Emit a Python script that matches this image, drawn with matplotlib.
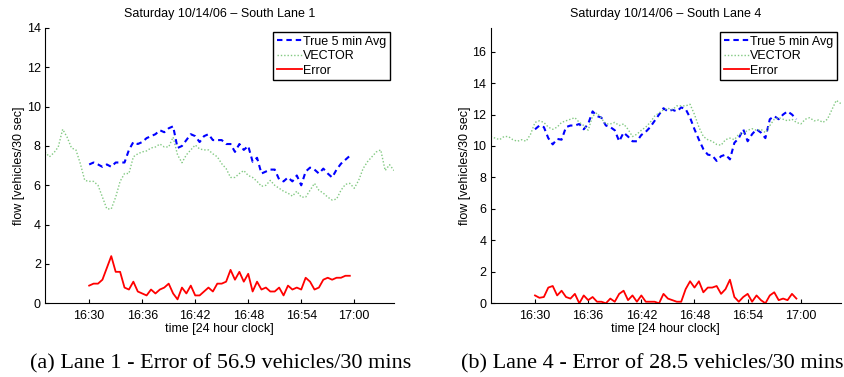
import numpy as np
import matplotlib
matplotlib.use("Agg")
import matplotlib.pyplot as plt

# sample step is 30 s, times in minutes after 16:00
t0_est = 30.0
t0_vec = 25.0
dt = 0.5

# Lane 1
true1 = [7.06, 7.16, 7.06, 6.94, 7.06, 6.94, 7.16, 7.16, 7.16, 7.8,
         8.2, 8.1, 8.2, 8.4, 8.5, 8.6, 8.8, 8.7, 8.9, 9.0,
         7.9, 8.0, 8.3, 8.6, 8.5, 8.2, 8.5, 8.6, 8.3, 8.3,
         8.3, 8.1, 8.1, 7.7, 8.1, 7.8, 8.0, 7.2, 7.4, 6.6,
         6.7, 6.8, 6.8, 6.3, 6.2, 6.4, 6.2, 6.5, 6.0, 6.7,
         6.9, 6.8, 6.6, 6.85, 6.6, 6.4, 6.8, 7.1, 7.3, 7.5]
vector1 = [7.7, 7.45, 7.65, 7.95, 8.85, 8.45, 7.9, 7.8, 7.1, 6.25,
           6.2, 6.2, 6.0, 5.4, 4.8, 4.8, 5.4, 6.2, 6.6, 6.6,
           7.45, 7.6, 7.7, 7.75, 7.9, 7.95, 8.1, 7.95, 7.95, 8.45,
           7.55, 7.15, 7.55, 7.8, 8.05, 7.85, 7.8, 7.8, 7.6, 7.45,
           7.1, 6.85, 6.4, 6.4, 6.6, 6.75, 6.5, 6.4, 6.2, 5.95,
           6.0, 6.25, 6.0, 5.85, 5.7, 5.6, 5.45, 5.7, 5.4, 5.4,
           5.75, 6.1, 5.75, 5.6, 5.4, 5.25, 5.3, 5.75, 6.05, 6.1,
           5.85, 6.25, 6.85, 7.2, 7.45, 7.7, 7.8, 6.75, 7.05, 6.75]
error1 = [0.9, 1.0, 1.0, 1.2, 1.8, 2.4, 1.6, 1.6, 0.8, 0.7,
          1.1, 0.6, 0.5, 0.4, 0.7, 0.5, 0.7, 0.8, 1.0, 0.5,
          0.2, 0.8, 0.5, 0.9, 0.4, 0.4, 0.6, 0.8, 0.6, 1.0,
          1.0, 1.1, 1.7, 1.2, 1.6, 1.1, 1.5, 0.6, 1.1, 0.7,
          0.8, 0.6, 0.6, 0.8, 0.4, 0.9, 0.7, 0.8, 0.7, 1.3,
          1.1, 0.7, 0.8, 1.2, 1.3, 1.2, 1.3, 1.3, 1.4, 1.4]

# Lane 4
true4 = [11.06, 11.3, 11.2, 10.5, 10.1, 10.45, 10.4, 11.2, 11.3, 11.3,
         11.4, 11.06, 11.4, 12.2, 11.9, 11.8, 11.3, 11.2, 11.0, 10.3,
         10.85, 10.6, 10.3, 10.3, 10.7, 10.9, 11.2, 11.6, 12.0, 12.4,
         12.2, 12.3, 12.2, 12.45, 12.35, 11.8, 11.06, 10.4, 9.8, 9.45,
         9.4, 9.05, 9.35, 9.45, 9.15, 10.2, 10.5, 11.06, 10.3, 10.75,
         11.06, 10.85, 10.5, 11.7, 11.9, 11.7, 12.0, 12.2, 12.0, 11.7]
vector4 = [10.6, 10.5, 10.4, 10.6, 10.6, 10.4, 10.3, 10.4, 10.3, 10.75,
           11.5, 11.6, 11.5, 11.2, 11.06, 11.2, 11.5, 11.6, 11.7, 11.8,
           11.5, 11.3, 11.0, 11.9, 12.1, 11.75, 11.4, 11.4, 11.5, 11.3,
           11.4, 11.06, 10.6, 10.75, 11.0, 11.2, 11.5, 11.9, 12.1, 12.3,
           12.4, 12.3, 12.55, 12.55, 12.55, 12.65, 12.0, 11.2, 10.6, 10.4,
           10.3, 10.1, 10.05, 10.4, 10.5, 10.4, 10.75, 10.8, 11.0, 11.1,
           11.0, 11.06, 10.85, 11.3, 11.7, 11.8, 11.7, 11.6, 11.7, 11.5,
           11.4, 11.7, 11.8, 11.6, 11.65, 11.5, 11.7, 12.3, 12.9, 12.7]
error4 = [0.5, 0.35, 0.4, 1.0, 1.1, 0.5, 0.8, 0.4, 0.3, 0.6,
          0.0, 0.5, 0.2, 0.4, 0.1, 0.1, 0.0, 0.3, 0.1, 0.6,
          0.8, 0.2, 0.5, 0.1, 0.5, 0.1, 0.1, 0.1, 0.0, 0.6,
          0.3, 0.2, 0.1, 0.1, 0.9, 1.4, 1.0, 1.4, 0.7, 1.0,
          1.0, 1.1, 0.6, 0.9, 1.5, 0.4, 0.1, 0.4, 0.6, 0.1,
          0.5, 0.2, 0.0, 0.5, 0.7, 0.2, 0.3, 0.2, 0.6, 0.3]

tick_pos = [30, 36, 42, 48, 54, 60]
tick_lab = ['16:30', '16:36', '16:42', '16:48', '16:54', '17:00']

plt.rcParams['font.family'] = ['Liberation Sans', 'DejaVu Sans']
plt.rcParams['font.size'] = 9

W, H = 844, 377
fig = plt.figure(figsize=(W / 100, H / 100), dpi=100)


def panel(x0, x1, ymax, yticks, true, vec, err, title, caption, cap_x):
    ax = fig.add_axes([x0 / W, (H - 303.3) / H, (x1 - x0) / W, (303.3 - 28) / H])
    te = t0_est + dt * np.arange(len(true))
    tv = t0_vec + dt * np.arange(len(vec))
    ax.plot(te, true, color='#0000ff', linestyle=(0, (2.6, 1.9)), linewidth=1.5, label='True 5 min Avg')
    ax.plot(tv, vec, color='#82c982', linestyle=(0, (1, 1.4)), linewidth=1.0, label='VECTOR')
    ax.plot(te, err, color='#ff0000', linewidth=1.3, label='Error')
    ax.set_xlim(25.0, 64.5)
    ax.set_ylim(0, ymax)
    ax.set_xticks(tick_pos)
    ax.set_xticklabels(tick_lab)
    ax.set_yticks(yticks)
    ax.tick_params(direction='in', length=3, width=0.8, labelsize=9, pad=3)
    ax.tick_params(axis='x', pad=5)
    for s in ['top', 'right']:
        ax.spines[s].set_visible(False)
    for s in ['left', 'bottom']:
        ax.spines[s].set_linewidth(0.8)
    ax.set_title(title, fontsize=9, pad=8)
    ax.set_xlabel('time [24 hour clock]', fontsize=9, labelpad=0.5)
    ax.set_ylabel('flow [vehicles/30 sec]', fontsize=9, labelpad=1)
    leg = ax.legend(loc='upper right', fontsize=9, frameon=True, fancybox=False,
                    framealpha=1, edgecolor='black', borderpad=0.3, labelspacing=0.2,
                    handlelength=2.0, handletextpad=0.1, borderaxespad=0.3)
    leg.get_frame().set_linewidth(1.0)
    fig.text(cap_x / W, (H - 364) / H, caption, family=['Liberation Serif'],
             fontsize=16, ha='center', va='center')
    return ax


panel(45, 394, 14, [0, 2, 4, 6, 8, 10, 12, 14], true1, vector1, error1,
      'Saturday 10/14/06 \u2013 South Lane 1',
      '(a) Lane 1 - Error of 56.9 vehicles/30 mins', 221)
panel(490.7, 840.7, 17.5, [0, 2, 4, 6, 8, 10, 12, 14, 16], true4, vector4, error4,
      'Saturday 10/14/06 \u2013 South Lane 4',
      '(b) Lane 4 - Error of 28.5 vehicles/30 mins', 652)

fig.savefig('out.png', dpi=100)
